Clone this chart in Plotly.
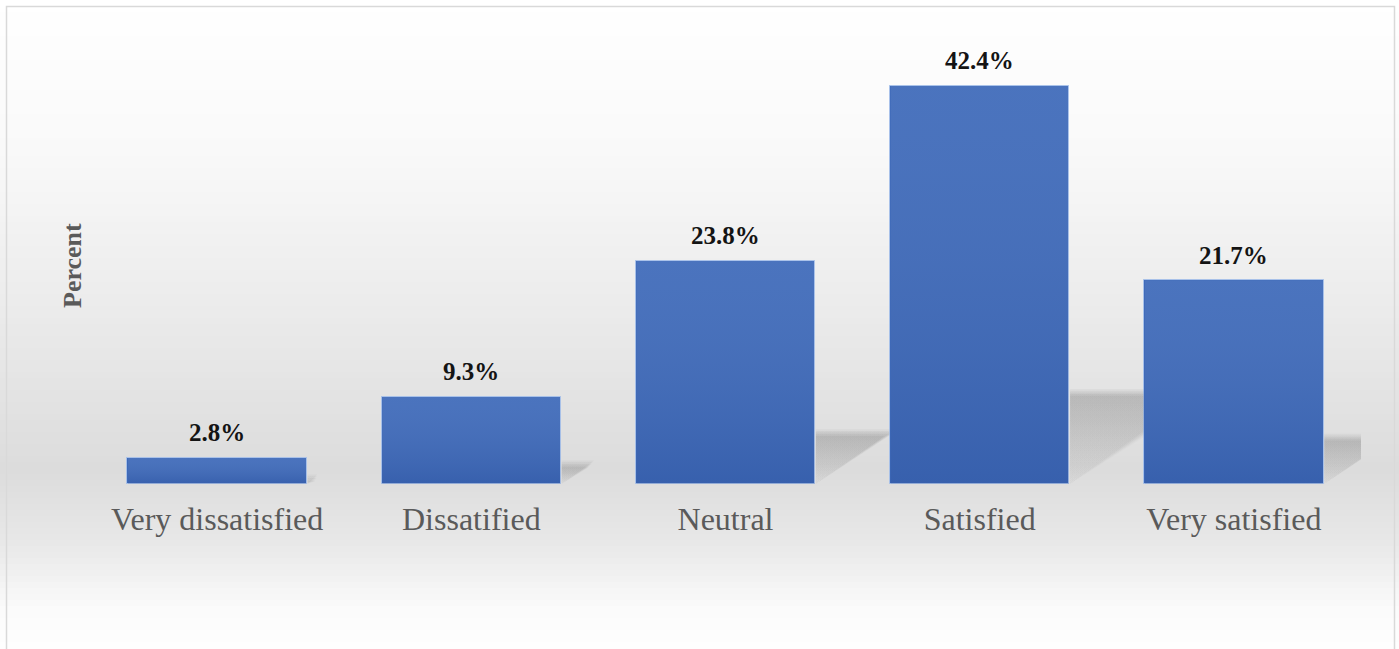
import plotly.graph_objects as go

# ---- data ----
categories = ["Very dissatisfied", "Dissatified", "Neutral", "Satisfied", "Very satisfied"]
percent = [2.8, 9.3, 23.8, 42.4, 21.7]
value_labels = ["2.8%", "9.3%", "23.8%", "42.4%", "21.7%"]

# ---- layout geometry (pixels) ----
W, H = 1399, 649
ML, MR, MT, MB = 90, 38, 30, 165
PW, PH = W - ML - MR, H - MT - MB
PX_PER_UNIT = 9.39
YMAX = PH / PX_PER_UNIT
BAR_W = 0.705
N = len(categories)


def px_x(px):
    return (px - ML) / PW


def px_y(py):
    return (H - MB - py) / PH


def hex2rgb(h):
    h = h.lstrip("#")
    return tuple(int(h[i:i + 2], 16) for i in (0, 2, 4))


def lerp_color(stops, py):
    for (y0, c0), (y1, c1) in zip(stops, stops[1:]):
        if y0 <= py <= y1:
            t = (py - y0) / (y1 - y0)
            a, b = hex2rgb(c0), hex2rgb(c1)
            return "rgb(%d,%d,%d)" % tuple(round(a[k] + (b[k] - a[k]) * t) for k in range(3))
    return stops[-1][1]


# background: white at the top, grey around the baseline, white again at the bottom
bg_stops = [(0, "#ffffff"), (150, "#f9f9f9"), (300, "#ececec"),
            (470, "#dcdcdc"), (540, "#e7e7e7"), (610, "#fbfbfb"), (660, "#ffffff")]

shapes = []
step = 6
for py in range(0, 660, step):
    shapes.append(dict(type="rect", xref="paper", yref="paper", layer="below",
                       x0=px_x(0), x1=px_x(W), y0=px_y(py + step + 0.5), y1=px_y(py),
                       fillcolor=lerp_color(bg_stops, py + step / 2), line=dict(width=0)))
# chart frame
shapes.append(dict(type="rect", xref="paper", yref="paper", layer="above",
                   x0=px_x(6.5), x1=px_x(1394.5), y0=px_y(662), y1=px_y(6.5),
                   fillcolor="rgba(0,0,0,0)", line=dict(color="#d9d9d9", width=1.5)))

fig = go.Figure()

fig.add_trace(go.Bar(
    x=list(range(N)), y=percent, width=BAR_W,
    marker=dict(color="#3d69b9", line=dict(color="rgba(170,195,235,0.9)", width=1)),
    hovertemplate="%{customdata}: %{y}%<extra></extra>",
    customdata=categories, showlegend=False))

# light-to-dark shading on each bar
for i, v in enumerate(percent):
    x0, x1 = i - BAR_W / 2 + 0.002, i + BAR_W / 2 - 0.002
    fig.add_trace(go.Scatter(
        x=[x0, x1, x1, x0, x0], y=[0, 0, v, v, 0],
        mode="lines", line=dict(width=0), fill="toself",
        fillgradient=dict(type="vertical",
                          colorscale=[[0, "rgba(20,40,100,0.14)"], [1, "rgba(255,255,255,0.07)"]],
                          start=0, stop=v),
        hoverinfo="skip", showlegend=False))

# cast shadows: the part of each sheared bar projection that shows to the
# right of the bar, cut off where the next bar (or the plot edge) begins.
# Several stacked, slightly different layers give the shadow a soft edge.
SHADOW_H = 0.23
SHADOW_DX = 0.0126
SOFT_LAYERS = [(0.8, 0.030), (0.4, 0.035), (0.0, 0.040), (-0.4, 0.040), (-0.8, 0.040)]
for i, v in enumerate(percent):
    hs = SHADOW_H * v
    dx = SHADOW_DX * v
    xr = i + BAR_W / 2 + 0.003
    limit = (i + 1 - BAR_W / 2 - 0.003) if i < N - 1 else N - 0.5
    for grow, alpha in SOFT_LAYERS:
        top = max(hs + grow * 0.45, hs * 0.5)
        d = dx * (1 + grow * 0.12)
        xe = xr + d
        if xe <= limit:
            xs = [xr, xr, xe, xr]
            ys = [0, top, top, 0]
        else:
            yc = top * (limit - xr) / d
            xs = [xr, xr, limit, limit, xr]
            ys = [0, top, top, yc, 0]
        fig.add_trace(go.Scatter(
            x=xs, y=ys, mode="lines", line=dict(width=0), fill="toself",
            fillgradient=dict(type="vertical",
                              colorscale=[[0, "rgba(70,70,70,%.3f)" % (alpha * 0.2)],
                                          [1, "rgba(70,70,70,%.3f)" % (alpha * 1.7)]],
                              start=0, stop=top),
            hoverinfo="skip", showlegend=False))

annotations = []
for i, (v, lab) in enumerate(zip(percent, value_labels)):
    annotations.append(dict(x=i, y=v, xref="x", yref="y", text="<b>%s</b>" % lab,
                            showarrow=False, yanchor="middle", yshift=25,
                            font=dict(family="Liberation Serif", size=25, color="#141414")))

annotations.append(dict(x=px_x(72), y=px_y(266), xref="paper", yref="paper",
                        text="<b>Percent</b>", textangle=-90, showarrow=False,
                        xanchor="center", yanchor="middle",
                        font=dict(family="Liberation Serif", size=26, color="#5a5a5a")))

fig.update_layout(
    width=W, height=H,
    margin=dict(l=ML, r=MR, t=MT, b=MB, pad=0),
    paper_bgcolor="#ffffff", plot_bgcolor="rgba(0,0,0,0)",
    shapes=shapes, annotations=annotations, bargap=0,
    xaxis=dict(range=[-0.5, N - 0.5], tickmode="array",
               tickvals=list(range(N)), ticktext=categories,
               tickfont=dict(family="Liberation Serif", size=32, color="#5a5a5a"),
               ticks="outside", ticklen=7, tickcolor="rgba(0,0,0,0)",
               showgrid=False, zeroline=False, showline=False, fixedrange=True),
    yaxis=dict(range=[0, YMAX], showticklabels=False, showgrid=False,
               zeroline=False, showline=False, fixedrange=True),
)

fig.write_html("out.html", config={"displayModeBar": False})
